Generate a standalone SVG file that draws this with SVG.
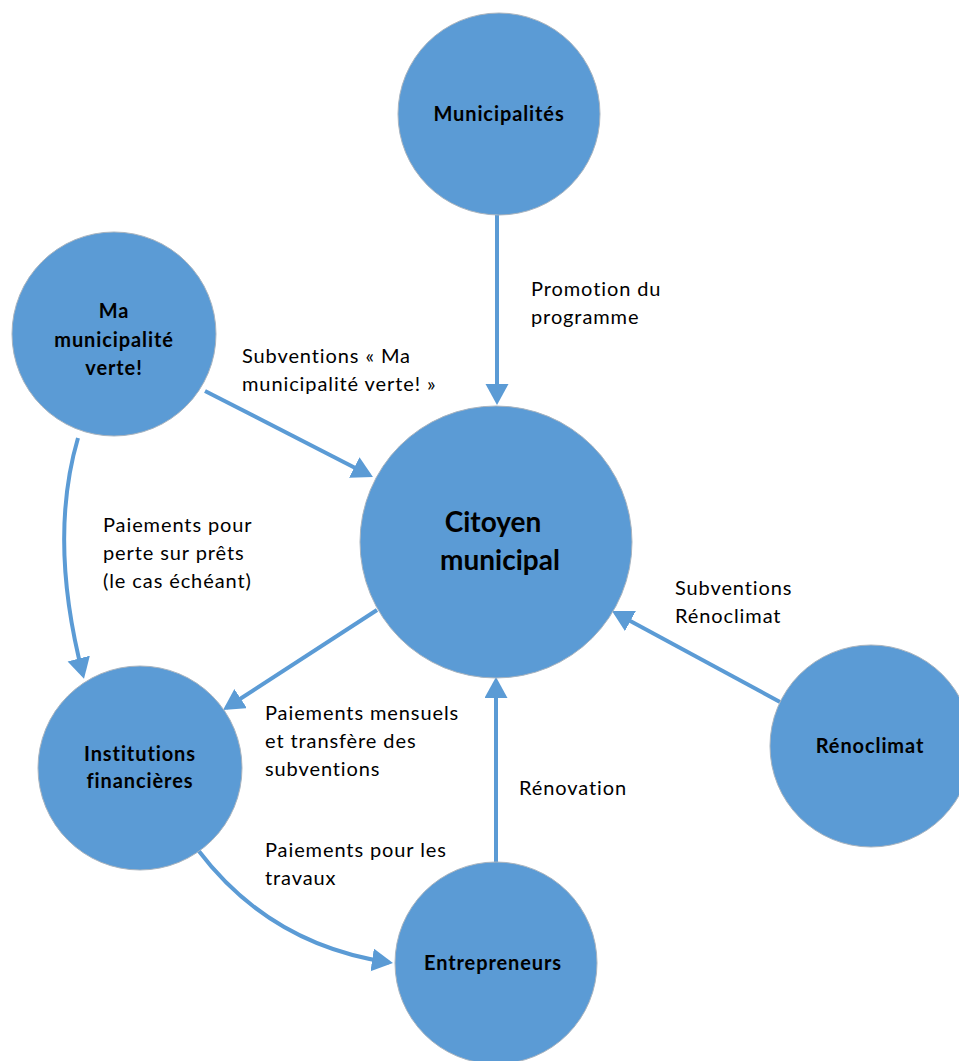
<svg xmlns="http://www.w3.org/2000/svg" width="959" height="1061" viewBox="0 0 959 1061">
<style>
.node{fill:#5B9BD5;stroke:#A9B4BF;stroke-width:1}
.nl{font-family:Lato,"Liberation Sans",sans-serif;font-weight:bold;font-size:20px;letter-spacing:0.9px;fill:#000;text-anchor:middle}
.big{font-size:28px;letter-spacing:0px}
.lbl{font-family:Lato,"Liberation Sans",sans-serif;font-size:20px;letter-spacing:0.9px;fill:#000}
.edge{fill:none;stroke:#5B9BD5;stroke-width:4}
</style>
<defs>
<marker id="arr" markerUnits="userSpaceOnUse" markerWidth="24" markerHeight="24" refX="17" refY="11.5" orient="auto">
<path d="M0,0 L21,11.5 L0,23 z" fill="#5B9BD5"/>
</marker>
</defs>
<rect width="959" height="1061" fill="#fff"/>
<g id="connectors">
<path class="edge" marker-end="url(#arr)" d="M497,215 L497,401"/>
<path class="edge" marker-end="url(#arr)" d="M205,391 L369.4,475.2"/>
<path class="edge" marker-end="url(#arr)" d="M377,610 L226.4,707.8"/>
<path class="edge" marker-end="url(#arr)" d="M78,438 Q48,540 83,675"/>
<path class="edge" marker-end="url(#arr)" d="M198,850 Q270,945 389,962.4"/>
<path class="edge" marker-end="url(#arr)" d="M780,702 L615.5,612.9"/>
<path class="edge" marker-end="url(#arr)" d="M496,862 L496,681"/>
</g>
<g id="node-municipalites">
<circle class="node" cx="499" cy="114" r="101"/>
<text class="nl" x="499" y="121">Municipalités</text>
</g>
<g id="node-ma-municipalite">
<circle class="node" cx="114" cy="334" r="102"/>
<text class="nl" x="114" y="318">Ma</text>
<text class="nl" x="114" y="347">municipalité</text>
<text class="nl" x="114" y="375">verte!</text>
</g>
<g id="node-citoyen">
<circle class="node" cx="496" cy="542" r="136"/>
<text class="nl big" x="493" y="532">Citoyen</text>
<text class="nl big" x="500" y="570">municipal</text>
</g>
<g id="node-institutions">
<circle class="node" cx="140" cy="768" r="102"/>
<text class="nl" x="140" y="761">Institutions</text>
<text class="nl" x="140" y="788">financières</text>
</g>
<g id="node-renoclimat">
<circle class="node" cx="871" cy="746" r="101"/>
<text class="nl" x="870" y="753">Rénoclimat</text>
</g>
<g id="node-entrepreneurs">
<circle class="node" cx="496" cy="963" r="101"/>
<text class="nl" x="493" y="970">Entrepreneurs</text>
</g>
<g id="labels">
<text class="lbl" x="531" y="296">Promotion du</text>
<text class="lbl" x="531" y="324">programme</text>
<text class="lbl" x="242" y="363">Subventions « Ma</text>
<text class="lbl" x="242" y="391">municipalité verte! »</text>
<text class="lbl" x="103" y="532">Paiements pour</text>
<text class="lbl" x="103" y="560">perte sur prêts</text>
<text class="lbl" x="103" y="588">(le cas échéant)</text>
<text class="lbl" x="265" y="720">Paiements mensuels</text>
<text class="lbl" x="265" y="748">et transfère des</text>
<text class="lbl" x="265" y="776">subventions</text>
<text class="lbl" x="519" y="795">Rénovation</text>
<text class="lbl" x="265" y="857">Paiements pour les</text>
<text class="lbl" x="265" y="885">travaux</text>
<text class="lbl" x="675" y="595">Subventions</text>
<text class="lbl" x="675" y="623">Rénoclimat</text>
</g>
</svg>
